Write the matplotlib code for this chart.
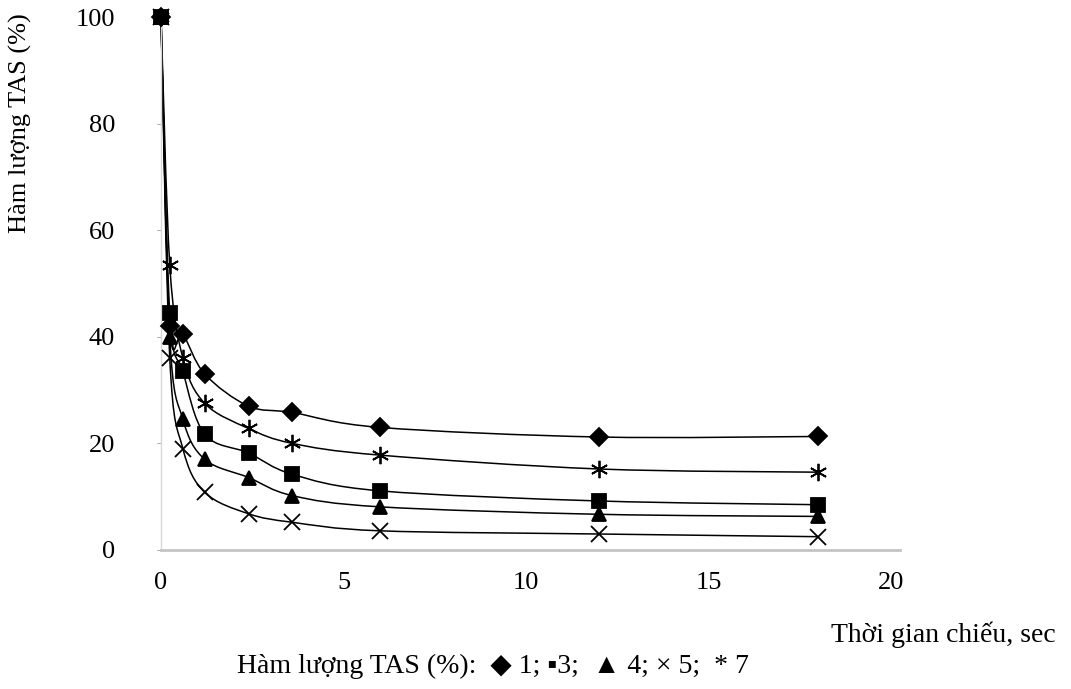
import numpy as np
import matplotlib
matplotlib.use("Agg")
import matplotlib.pyplot as plt
from matplotlib.path import Path
from matplotlib.patches import PathPatch

# thoi gian chieu (sec)
t = [0, 0.24, 0.6, 1.2, 2.4, 3.6, 6, 12, 18]

# ham luong TAS con lai (%) cho tung nong do TAS
tas1 = [100, 42, 40.5, 33, 27, 25.8, 23, 21.2, 21.3]
tas3 = [100, 44.5, 33.5, 21.7, 18.2, 14.2, 11.1, 9.2, 8.5]
tas4 = [100, 40, 24.5, 17, 13.6, 10.2, 8.1, 6.7, 6.3]
tas5 = [100, 36, 19, 10.8, 6.8, 5.2, 3.6, 3.0, 2.5]
tas7 = [100, 53.5, 36, 27.5, 22.8, 20, 17.8, 15.2, 14.6]

serif = ['Liberation Serif', 'DejaVu Serif']

fig = plt.figure(figsize=(10.71, 6.89), dpi=100)
ax = fig.add_axes([161/1071, 1 - 550/689, 739/1071, 533/689])

xlim = (0, 20.25)
ylim = (0, 100)
ax.set_xlim(*xlim)
ax.set_ylim(*ylim)

# scale for smoothing in screen-like units
sx = 739 / (xlim[1] - xlim[0])
sy = 533 / (ylim[1] - ylim[0])


def smooth_path(x, y):
    # Excel-like smoothed line: Catmull-Rom segments as cubic Bezier
    P = np.column_stack([np.array(x) * sx, np.array(y) * sy])
    n = len(P)
    verts = [P[0]]
    codes = [Path.MOVETO]
    for i in range(n - 1):
        p0 = P[i - 1] if i > 0 else P[i]
        p1 = P[i]
        p2 = P[i + 1]
        p3 = P[i + 2] if i + 2 < n else P[i + 1]
        c1 = p1 + (p2 - p0) / 6
        c2 = p2 - (p3 - p1) / 6
        verts += [c1, c2, p2]
        codes += [Path.CURVE4] * 3
    verts = np.array(verts)
    verts[:, 0] /= sx
    verts[:, 1] /= sy
    return Path(verts, codes)


series = [
    (tas1, 'D', 9.5, 'k'),
    (tas3, 's', 9.5, 'k'),
    (tas4, '^', 10.5, 'k'),
    (tas5, 'x', 11, 'none'),
    (tas7, (6, 2, 0), 12.5, 'none'),
]

for vals, mk, ms, fc in series:
    ax.add_patch(PathPatch(smooth_path(t, vals), fill=False, color='black',
                           lw=1.1, clip_on=False))
    ax.plot(t, vals, linestyle='none', marker=mk, markersize=ms,
            color='black', markerfacecolor=fc, markeredgewidth=1.3,
            clip_on=False, zorder=3)

for s in ['top', 'right']:
    ax.spines[s].set_visible(False)
ax.spines['left'].set_color('#d8d8d8')
ax.spines['left'].set_linewidth(1.0)
ax.spines['bottom'].set_color('#c4c4c4')
ax.spines['bottom'].set_linewidth(2.0)

ax.set_xticks([0, 5, 10, 15, 20])
ax.set_yticks([0, 20, 40, 60, 80, 100])
ax.tick_params(axis='y', length=3, color='#b0b0b0', pad=30, labelsize=19)
ax.tick_params(axis='x', length=0, pad=16, labelsize=19)
for lab in ax.get_xticklabels() + ax.get_yticklabels():
    lab.set_family(serif)

fig.text(20/1071, 1 - 123/689, 'Hàm lượng TAS (%)', rotation=90,
         ha='center', va='center', fontsize=19, family=serif)
fig.text(1056/1071, 1 - 635/689, 'Thời gian chiếu, sec', ha='right',
         va='center', fontsize=20, family=serif)
fig.text(237/1071, 1 - 666/689,
         'Hàm lượng TAS (%):  \u25c6 1; \u25aa3;  \u25b2 4; \u00d7 5;  * 7',
         ha='left', va='center', fontsize=20, family=serif + ['DejaVu Sans'])

fig.savefig('out.png', dpi=100, facecolor='white')
